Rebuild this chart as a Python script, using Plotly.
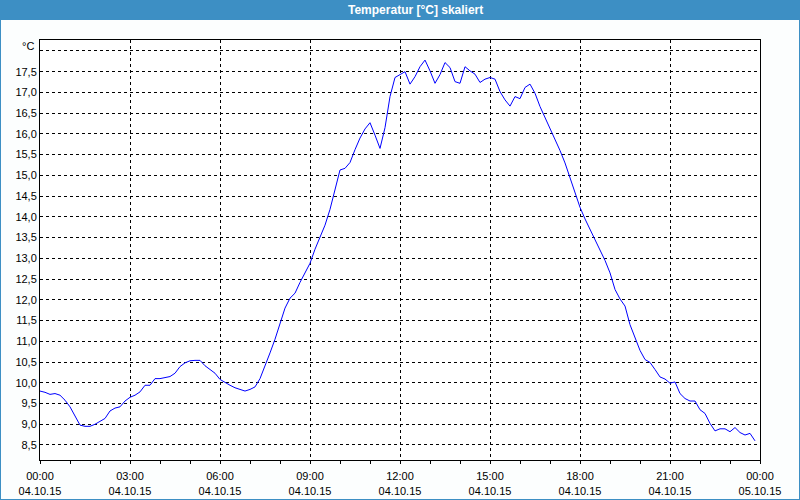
import plotly.graph_objects as go
import pandas as pd

title_text = "Temperatur [°C] skaliert"
unit_label = "°C"
start_time = "2015-10-04 00:00"
end_time = "2015-10-05 00:00"
step_minutes = 10

# temperature readings every 10 minutes, 00:00 .. 23:50
temperature = [
    9.80, 9.77, 9.72, 9.74, 9.70, 9.58, 9.42, 9.18, 8.98, 8.95,
    8.95, 9.00, 9.08, 9.14, 9.32, 9.39, 9.42, 9.56, 9.65, 9.70,
    9.78, 9.94, 9.94, 10.10, 10.10, 10.13, 10.15, 10.23, 10.39, 10.48,
    10.53, 10.54, 10.54, 10.41, 10.33, 10.23, 10.08, 10.00, 9.94, 9.88,
    9.84, 9.80, 9.84, 9.90, 10.10, 10.40, 10.72, 11.05, 11.43, 11.80,
    12.04, 12.16, 12.42, 12.65, 12.88, 13.22, 13.52, 13.80, 14.18, 14.63,
    15.13, 15.17, 15.31, 15.62, 15.90, 16.12, 16.27, 15.97, 15.65, 16.15,
    16.90, 17.36, 17.44, 17.50, 17.20, 17.38, 17.62, 17.78, 17.52, 17.22,
    17.43, 17.72, 17.60, 17.26, 17.22, 17.62, 17.52, 17.44, 17.24, 17.32,
    17.36, 17.32, 17.02, 16.82, 16.67, 16.90, 16.85, 17.12, 17.20, 16.98,
    16.66, 16.40, 16.16, 15.86, 15.60, 15.30, 14.93, 14.57, 14.23, 13.95,
    13.70, 13.45, 13.16, 12.95, 12.65, 12.25, 12.02, 11.85, 11.40, 11.10,
    10.78, 10.56, 10.49, 10.32, 10.14, 10.09, 9.99, 10.02, 9.74, 9.62,
    9.56, 9.56, 9.35, 9.26, 9.02, 8.84, 8.89, 8.89, 8.82, 8.92,
    8.80, 8.74, 8.78, 8.60,
]

times = pd.date_range(start_time, periods=len(temperature), freq=f"{step_minutes}min")

x_tickvals = ["2015-10-04 00:00", "2015-10-04 03:00", "2015-10-04 06:00",
              "2015-10-04 09:00", "2015-10-04 12:00", "2015-10-04 15:00",
              "2015-10-04 18:00", "2015-10-04 21:00", "2015-10-05 00:00"]
x_ticktext = ["00:00<br>04.10.15", "03:00<br>04.10.15", "06:00<br>04.10.15",
              "09:00<br>04.10.15", "12:00<br>04.10.15", "15:00<br>04.10.15",
              "18:00<br>04.10.15", "21:00<br>04.10.15", "00:00<br>05.10.15"]
y_tickvals = [8.5, 9.0, 9.5, 10.0, 10.5, 11.0, 11.5, 12.0, 12.5, 13.0,
              13.5, 14.0, 14.5, 15.0, 15.5, 16.0, 16.5, 17.0, 17.5, 18.0]
y_ticktext = ["8,5", "9,0", "9,5", "10,0", "10,5", "11,0", "11,5", "12,0", "12,5", "13,0",
              "13,5", "14,0", "14,5", "15,0", "15,5", "16,0", "16,5", "17,0", "17,5", ""]

W, H = 800, 500
ML, MR, MT, MB = 40, 40, 40, 40
PW, PH = W - ML - MR, H - MT - MB
BLUE = "#3d8fc4"
FONT = "Liberation Sans"

fig = go.Figure()
fig.add_trace(go.Scatter(x=times, y=temperature, mode="lines",
                         line=dict(color="#0000ff", width=1), hoverinfo="skip"))

def px_x(p):
    return (p - ML) / PW

def px_y(p):
    return 1 - (p - MT) / PH

shapes = [
    dict(type="rect", xref="paper", yref="paper", x0=px_x(0), x1=px_x(W),
         y0=px_y(20), y1=px_y(0), fillcolor=BLUE, line=dict(width=0), layer="below"),
    dict(type="rect", xref="paper", yref="paper", x0=px_x(0), x1=px_x(W),
         y0=px_y(H), y1=px_y(0), fillcolor="rgba(0,0,0,0)",
         line=dict(color=BLUE, width=2)),
]

annotations = [
    dict(text=f"<b>{title_text}</b>", xref="paper", yref="paper", x=px_x(415), y=px_y(10),
         xanchor="center", yanchor="middle", showarrow=False,
         font=dict(family=FONT, size=12, color="white")),
    dict(text=unit_label, xref="paper", yref="paper", x=px_x(36), y=px_y(46),
         xanchor="right", yanchor="middle", showarrow=False,
         font=dict(family=FONT, size=11, color="black")),
]

fig.update_layout(
    width=W, height=H,
    margin=dict(l=ML, r=MR, t=MT, b=MB, autoexpand=False),
    paper_bgcolor="#fcfefe", plot_bgcolor="white",
    showlegend=False,
    shapes=shapes, annotations=annotations,
    font=dict(family=FONT, size=11, color="black"),
)
fig.update_xaxes(
    type="date", range=[start_time, end_time], automargin=False,
    tickmode="array", tickvals=x_tickvals, ticktext=x_ticktext,
    ticks="outside", ticklen=3, tickcolor="black", tickwidth=1,
    ticklabelstandoff=3,
    minor=dict(dtick=3600000, ticks="outside", ticklen=3, tickcolor="black", showgrid=False),
    showgrid=True, gridcolor="black", gridwidth=1, griddash="3px,3px",
    showline=True, linecolor="black", linewidth=1, mirror=True,
    zeroline=False, tickfont=dict(family=FONT, size=11, color="black"),
)
fig.update_yaxes(
    range=[8.138, 18.264], automargin=False,
    tickmode="array", tickvals=y_tickvals, ticktext=y_ticktext,
    ticks="", showgrid=True, gridcolor="black", gridwidth=1, griddash="3px,3px",
    showline=True, linecolor="black", linewidth=1, mirror=True,
    zeroline=False, tickfont=dict(family=FONT, size=11, color="black"),
)

fig.write_html("out.html")
